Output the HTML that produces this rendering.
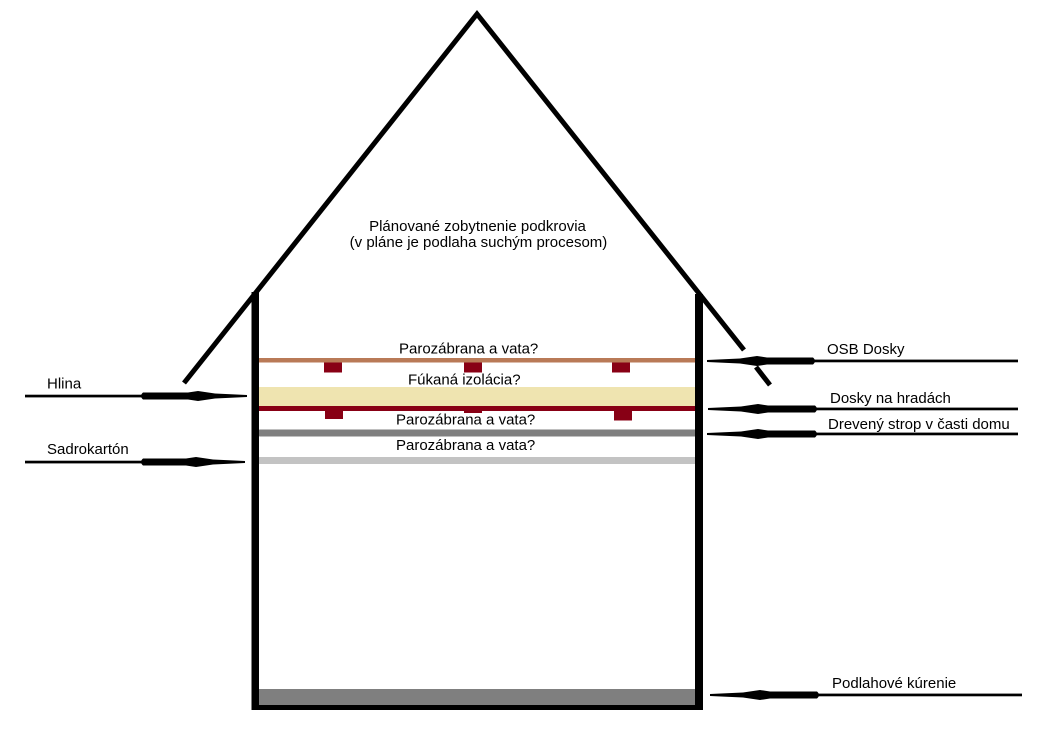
<!DOCTYPE html>
<html>
<head>
<meta charset="utf-8">
<style>
  html, body { margin:0; padding:0; background:#fff; }
  svg { display:block; }
  text { font-family: "Liberation Sans", Arial, sans-serif; font-size:15px; fill:#000; }
</style>
</head>
<body>
<svg width="1043" height="730" viewBox="0 0 1043 730" xmlns="http://www.w3.org/2000/svg">
  <rect x="0" y="0" width="1043" height="730" fill="#fff"/>

  <!-- Roof -->
  <polyline points="184,383 477,14 744,350" fill="none" stroke="#000" stroke-width="5" stroke-linejoin="miter" stroke-miterlimit="10"/>
  <line x1="756" y1="367" x2="770" y2="385" stroke="#000" stroke-width="5"/>

  <!-- Layers -->
  <rect x="259" y="358" width="436" height="4.5" fill="#b97a57"/>
  <rect x="324" y="362.5" width="18" height="10" fill="#880015"/>
  <rect x="464" y="362.5" width="18" height="10" fill="#880015"/>
  <rect x="612" y="362.5" width="18" height="10" fill="#880015"/>

  <rect x="259" y="387" width="436" height="19" fill="#efe4b0"/>
  <rect x="259" y="406" width="436" height="5" fill="#880015"/>
  <rect x="325" y="410" width="18" height="9" fill="#880015"/>
  <rect x="464" y="410" width="18" height="3" fill="#880015"/>
  <rect x="614" y="410" width="18" height="10.5" fill="#880015"/>

  <line x1="260" y1="433" x2="695" y2="433" stroke="#7f7f7f" stroke-width="7" stroke-linecap="round"/>
  <rect x="259" y="457" width="436" height="7" fill="#c3c3c3"/>

  <!-- Floor -->
  <rect x="259" y="689" width="436" height="16" fill="#7f7f7f"/>

  <!-- Walls -->
  <rect x="251.5" y="292" width="7.5" height="418" fill="#000"/>
  <rect x="695" y="294" width="8" height="416" fill="#000"/>
  <rect x="251.5" y="705" width="451.5" height="5" fill="#000"/>

  <!-- Left arrows (pointing right) -->
  <g fill="#000">
    <!-- Hlina c=396 -->
    <rect x="25" y="394.7" width="120" height="2.7"/>
    <path d="M143,392.5 L188,392.5 L198,391 L215,393.5 L247,395 L247,397 L215,398.5 L198,401 L188,399.5 L143,399.5 Q139,396 143,392.5 Z"/>
    <!-- Sadrokarton c=462 -->
    <rect x="25" y="460.7" width="120" height="2.7"/>
    <path d="M143,458.5 L186,458.5 L196,457 L213,459.5 L245,461 L245,463 L213,464.5 L196,467 L186,465.5 L143,465.5 Q139,462 143,458.5 Z"/>
  </g>

  <!-- Right arrows (pointing left) -->
  <g fill="#000">
    <!-- OSB c=361 -->
    <rect x="810" y="359.6" width="208" height="2.7"/>
    <path d="M813,357.5 L767,357.5 L757,356 L740,358.5 L707,360 L707,362 L740,363.5 L757,366 L767,364.5 L813,364.5 Q817,361 813,357.5 Z"/>
    <!-- Dosky na hradach c=409 -->
    <rect x="812" y="407.6" width="206" height="2.7"/>
    <path d="M815,405.5 L768,405.5 L758,404 L741,406.5 L708,408 L708,410 L741,411.5 L758,414 L768,412.5 L815,412.5 Q819,409 815,405.5 Z"/>
    <!-- Dreveny strop c=434 -->
    <rect x="812" y="432.6" width="206" height="2.7"/>
    <path d="M815,430.5 L768,430.5 L758,429 L741,431.5 L707,433 L707,435 L741,436.5 L758,439 L768,437.5 L815,437.5 Q819,434 815,430.5 Z"/>
    <!-- Podlahove kurenie c=695 -->
    <rect x="814" y="693.6" width="208" height="2.7"/>
    <path d="M817,691.5 L770,691.5 L760,690 L743,692.5 L710,694 L710,696 L743,697.5 L760,700 L770,698.5 L817,698.5 Q821,695 817,691.5 Z"/>
  </g>

  <!-- Title -->
  <text x="477.5" y="231" text-anchor="middle">Plánované zobytnenie podkrovia</text>
  <text x="478.5" y="247" text-anchor="middle">(v pláne je podlaha suchým procesom)</text>

  <!-- Layer labels -->
  <text x="399" y="353.5">Parozábrana a vata?</text>
  <text x="408" y="384.5">Fúkaná izolácia?</text>
  <text x="396" y="424.5">Parozábrana a vata?</text>
  <text x="396" y="450">Parozábrana a vata?</text>

  <!-- Side labels -->
  <text x="47" y="388.5">Hlina</text>
  <text x="47" y="454">Sadrokartón</text>
  <text x="827" y="354">OSB Dosky</text>
  <text x="830" y="403">Dosky na hradách</text>
  <text x="828" y="429">Drevený strop v časti domu</text>
  <text x="832" y="688">Podlahové kúrenie</text>
</svg>
</body>
</html>
